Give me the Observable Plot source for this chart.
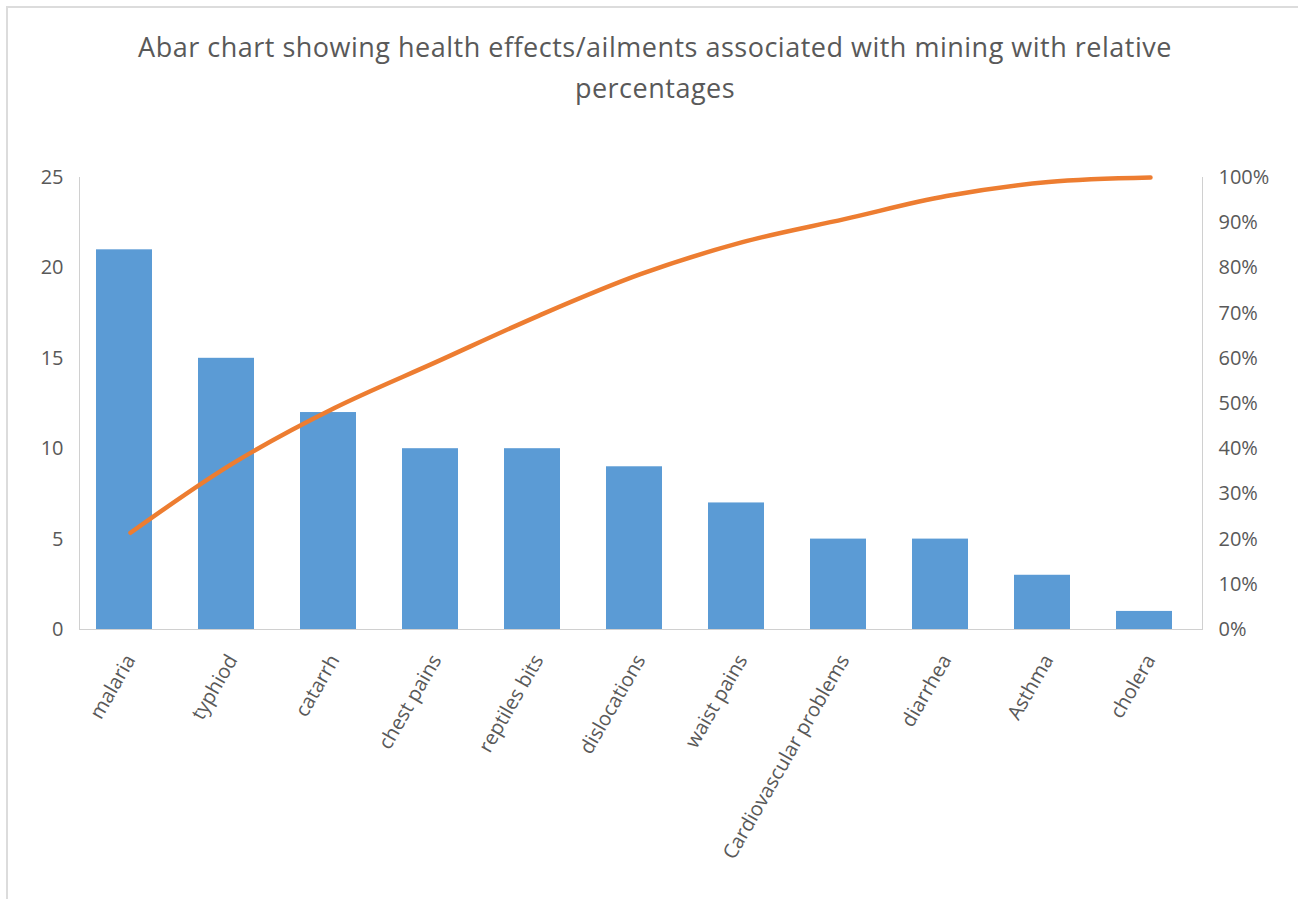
<!DOCTYPE html>
<html>
<head>
<meta charset="utf-8">
<script src="https://cdn.jsdelivr.net/npm/d3@7"></script>
<script src="https://cdn.jsdelivr.net/npm/@observablehq/plot@0.6"></script>
<style>
  html, body { margin: 0; padding: 0; background: #fff; }
  #wrap { position: relative; width: 1298px; height: 899px; overflow: hidden; font-family: "Open Sans", sans-serif; }
  #border { position: absolute; left: 6px; top: 6px; right: -10px; bottom: -10px; border-top: 2px solid #dcdcdc; border-left: 2px solid #dcdcdc; }
  #title { position: absolute; left: 12px; top: 26px; width: 1286px; text-align: center; font-size: 27px; letter-spacing: 0.5px; line-height: 41px; color: #595959; }
  #chart { position: absolute; left: 0; top: 110px; }
</style>
</head>
<body>
<div id="wrap">
  <div id="border"></div>
  <div id="title">Abar chart showing health effects/ailments associated with mining with relative<br>percentages</div>
  <div id="chart"></div>
</div>
<script>
const categories = ["malaria", "typhiod", "catarrh", "chest pains", "reptiles bits", "dislocations", "waist pains", "Cardiovascular problems", "diarrhea", "Asthma", "cholera"];
const counts = [21, 15, 12, 10, 10, 9, 7, 5, 5, 3, 1];
const cumulativePct = [21.4, 36.7, 49.0, 59.2, 69.4, 78.6, 85.7, 90.8, 95.9, 99.0, 100];
const leftTicks = [0, 5, 10, 15, 20, 25];
const rightTicks = [0, 10, 20, 30, 40, 50, 60, 70, 80, 90, 100];

const leftMax = 25, rightMax = 100;
const barRows = categories.map((c, i) => ({category: c, count: counts[i]}));
const lineRows = categories.map((c, i) => ({category: c, pct: cumulativePct[i] * leftMax / rightMax}));

const chart = Plot.plot({
  width: 1298,
  height: 789,
  marginTop: 67,
  marginBottom: 270,
  marginLeft: 79,
  marginRight: 96,
  style: {fontFamily: "'Open Sans', sans-serif", color: "#595959", background: "transparent"},
  x: {domain: categories, paddingInner: 0.45, paddingOuter: 0.225, label: null},
  y: {domain: [0, leftMax], label: null},
  marks: [
    Plot.frame({anchor: "left", stroke: "#d0d0d0", strokeDasharray: "2,1"}),
    Plot.frame({anchor: "right", stroke: "#d0d0d0", strokeDasharray: "2,1"}),
    Plot.frame({anchor: "bottom", stroke: "#d0d0d0", strokeDasharray: "2,1"}),
    Plot.barY(barRows, {x: "category", y: "count", fill: "#5B9BD5", dx: -6}),
    Plot.line(lineRows, {x: "category", y: "pct", stroke: "#ED7D31", strokeWidth: 4.5, strokeLinecap: "round", strokeLinejoin: "round", curve: "catmull-rom"}),
    Plot.axisY(leftTicks, {anchor: "left", tickSize: 0, tickPadding: 16, fontSize: 20, fill: "#595959", label: null}),
    Plot.axisY(rightTicks.map(t => t * leftMax / rightMax), {anchor: "right", tickSize: 0, tickPadding: 16, fontSize: 20, fill: "#595959", label: null, tickFormat: d => Math.round(d * rightMax / leftMax) + "%"}),
    Plot.axisX({tickRotate: -60, tickSize: 0, tickPadding: 27, fontSize: 20, fill: "#595959", label: null})
  ]
});
document.getElementById("chart").appendChild(chart);
</script>
</body>
</html>
